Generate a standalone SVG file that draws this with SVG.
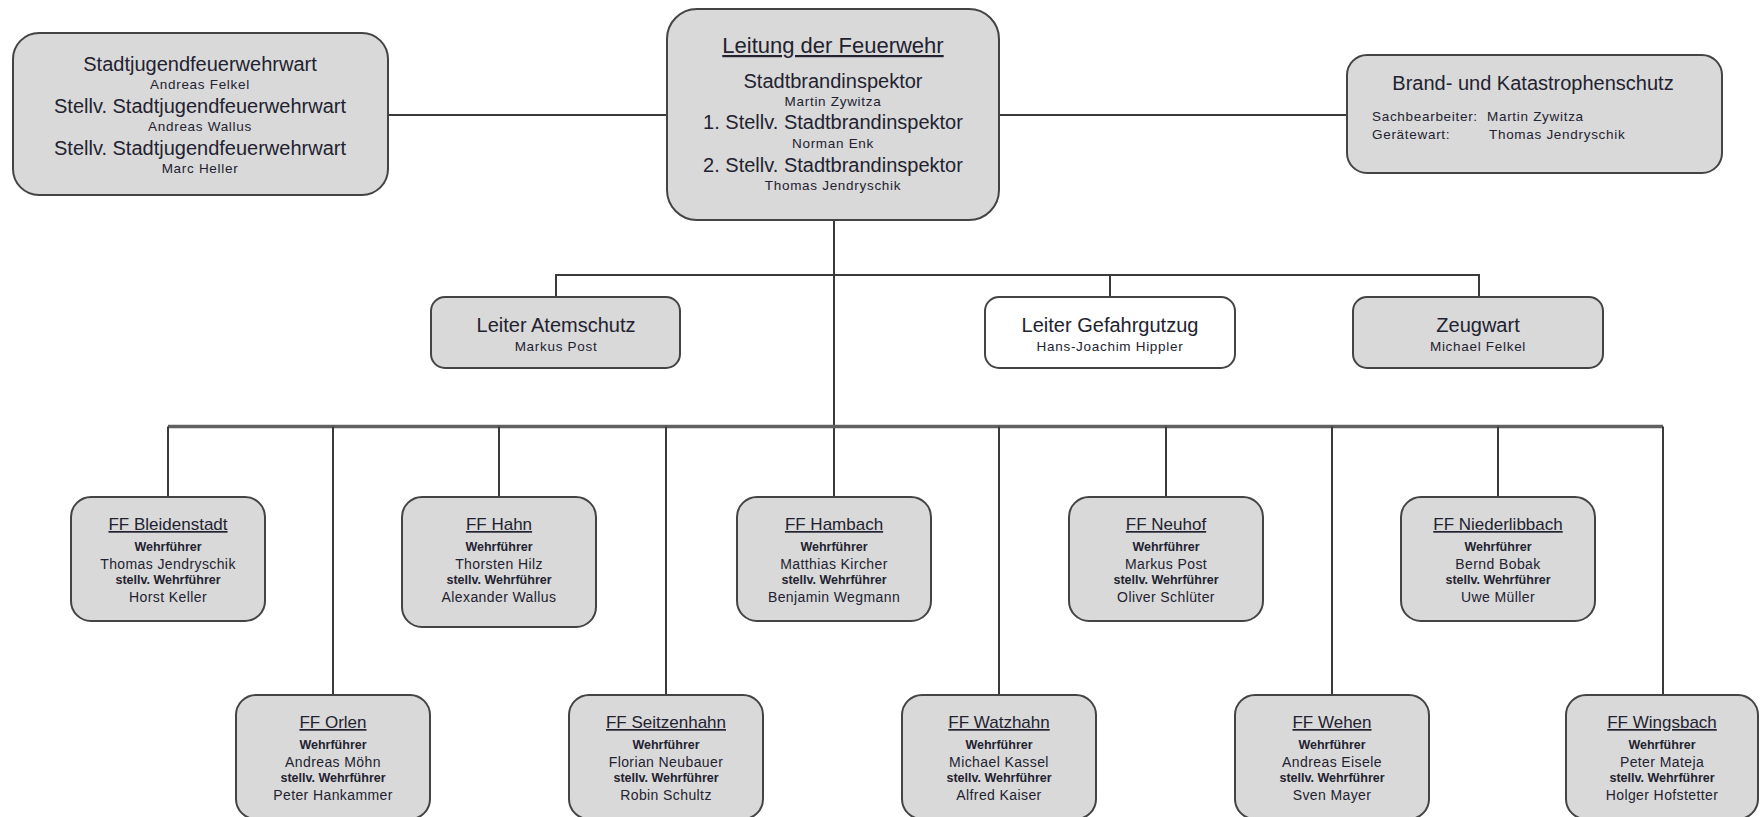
<svg xmlns="http://www.w3.org/2000/svg" width="1760" height="817" viewBox="0 0 1760 817">
<style>
text{font-family:"Liberation Sans",Arial,sans-serif;fill:#222230;text-anchor:middle}
.box{fill:#d9d9d9;stroke:#444;stroke-width:2}
.wbox{fill:#fff;stroke:#444;stroke-width:2}
.big{font-size:20px}
.head{font-size:22px;text-decoration:underline}
.sm{font-size:13.5px;letter-spacing:0.7px}
.ft{font-size:17px;text-decoration:underline}
.role{font-size:12.5px;font-weight:bold}
.nm{font-size:14px;letter-spacing:0.4px}
.l{text-anchor:start}
.c{fill:none;stroke:#3a3a3a;stroke-width:2}
.bus{fill:none;stroke:#606060;stroke-width:3.5}
</style>
<rect width="1760" height="817" fill="#fff"/>
<g id="connectors">
<path class="c" d="M388 115H667M999 115H1347"/>
<path class="c" d="M834 220V497"/>
<path class="c" d="M556 297V275H1479V297M1110 275V297"/>
<path class="bus" d="M168 426.5H1663"/>
<path class="c" d="M168 426.5V497M499 426.5V497M1166 426.5V497M1498 426.5V497"/>
<path class="c" d="M333 426.5V695M666 426.5V695M999 426.5V695M1332 426.5V695M1663 426.5V695"/>
</g>
<g id="jugend">
<rect class="box" x="13" y="33" width="375" height="162" rx="26"/>
<text class="big" x="200" y="71">Stadtjugendfeuerwehrwart</text>
<text class="sm" x="200" y="89">Andreas Felkel</text>
<text class="big" x="200" y="113">Stellv. Stadtjugendfeuerwehrwart</text>
<text class="sm" x="200" y="131">Andreas Wallus</text>
<text class="big" x="200" y="155">Stellv. Stadtjugendfeuerwehrwart</text>
<text class="sm" x="200" y="173">Marc Heller</text>
</g>
<g id="leitung">
<rect class="box" x="667" y="9" width="332" height="211" rx="30"/>
<text class="head" x="833" y="53">Leitung der Feuerwehr</text>
<text class="big" x="833" y="88">Stadtbrandinspektor</text>
<text class="sm" x="833" y="106">Martin Zywitza</text>
<text class="big" x="833" y="129">1. Stellv. Stadtbrandinspektor</text>
<text class="sm" x="833" y="148">Norman Enk</text>
<text class="big" x="833" y="172">2. Stellv. Stadtbrandinspektor</text>
<text class="sm" x="833" y="190">Thomas Jendryschik</text>
</g>
<g id="katastrophenschutz">
<rect class="box" x="1347" y="55" width="375" height="118" rx="20"/>
<text class="big" x="1533" y="90">Brand- und Katastrophenschutz</text>
<text class="sm l" x="1372" y="121">Sachbearbeiter:</text>
<text class="sm l" x="1487" y="121">Martin Zywitza</text>
<text class="sm l" x="1372" y="139">Gerätewart:</text>
<text class="sm l" x="1489" y="139">Thomas Jendryschik</text>
</g>
<g id="atemschutz">
<rect class="box" x="431" y="297" width="249" height="71" rx="14"/>
<text class="big" x="556" y="332">Leiter Atemschutz</text>
<text class="sm" x="556" y="351">Markus Post</text>
</g>
<g id="gefahrgutzug">
<rect class="wbox" x="985" y="297" width="250" height="71" rx="14"/>
<text class="big" x="1110" y="332">Leiter Gefahrgutzug</text>
<text class="sm" x="1110" y="351">Hans-Joachim Hippler</text>
</g>
<g id="zeugwart">
<rect class="box" x="1353" y="297" width="250" height="71" rx="14"/>
<text class="big" x="1478" y="332">Zeugwart</text>
<text class="sm" x="1478" y="351">Michael Felkel</text>
</g>
<g id="bleidenstadt">
<rect class="box" x="71" y="497" width="194" height="124" rx="20"/>
<text class="ft" x="168" y="530">FF Bleidenstadt</text>
<text class="role" x="168" y="551">Wehrführer</text>
<text class="nm" x="168" y="569">Thomas Jendryschik</text>
<text class="role" x="168" y="584">stellv. Wehrführer</text>
<text class="nm" x="168" y="602">Horst Keller</text>
</g>
<g id="hahn">
<rect class="box" x="402" y="497" width="194" height="130" rx="20"/>
<text class="ft" x="499" y="530">FF Hahn</text>
<text class="role" x="499" y="551">Wehrführer</text>
<text class="nm" x="499" y="569">Thorsten Hilz</text>
<text class="role" x="499" y="584">stellv. Wehrführer</text>
<text class="nm" x="499" y="602">Alexander Wallus</text>
</g>
<g id="hambach">
<rect class="box" x="737" y="497" width="194" height="124" rx="20"/>
<text class="ft" x="834" y="530">FF Hambach</text>
<text class="role" x="834" y="551">Wehrführer</text>
<text class="nm" x="834" y="569">Matthias Kircher</text>
<text class="role" x="834" y="584">stellv. Wehrführer</text>
<text class="nm" x="834" y="602">Benjamin Wegmann</text>
</g>
<g id="neuhof">
<rect class="box" x="1069" y="497" width="194" height="124" rx="20"/>
<text class="ft" x="1166" y="530">FF Neuhof</text>
<text class="role" x="1166" y="551">Wehrführer</text>
<text class="nm" x="1166" y="569">Markus Post</text>
<text class="role" x="1166" y="584">stellv. Wehrführer</text>
<text class="nm" x="1166" y="602">Oliver Schlüter</text>
</g>
<g id="niederlibbach">
<rect class="box" x="1401" y="497" width="194" height="124" rx="20"/>
<text class="ft" x="1498" y="530">FF Niederlibbach</text>
<text class="role" x="1498" y="551">Wehrführer</text>
<text class="nm" x="1498" y="569">Bernd Bobak</text>
<text class="role" x="1498" y="584">stellv. Wehrführer</text>
<text class="nm" x="1498" y="602">Uwe Müller</text>
</g>
<g id="orlen">
<rect class="box" x="236" y="695" width="194" height="124" rx="20"/>
<text class="ft" x="333" y="728">FF Orlen</text>
<text class="role" x="333" y="749">Wehrführer</text>
<text class="nm" x="333" y="767">Andreas Möhn</text>
<text class="role" x="333" y="782">stellv. Wehrführer</text>
<text class="nm" x="333" y="800">Peter Hankammer</text>
</g>
<g id="seitzenhahn">
<rect class="box" x="569" y="695" width="194" height="124" rx="20"/>
<text class="ft" x="666" y="728">FF Seitzenhahn</text>
<text class="role" x="666" y="749">Wehrführer</text>
<text class="nm" x="666" y="767">Florian Neubauer</text>
<text class="role" x="666" y="782">stellv. Wehrführer</text>
<text class="nm" x="666" y="800">Robin Schultz</text>
</g>
<g id="watzhahn">
<rect class="box" x="902" y="695" width="194" height="124" rx="20"/>
<text class="ft" x="999" y="728">FF Watzhahn</text>
<text class="role" x="999" y="749">Wehrführer</text>
<text class="nm" x="999" y="767">Michael Kassel</text>
<text class="role" x="999" y="782">stellv. Wehrführer</text>
<text class="nm" x="999" y="800">Alfred Kaiser</text>
</g>
<g id="wehen">
<rect class="box" x="1235" y="695" width="194" height="124" rx="20"/>
<text class="ft" x="1332" y="728">FF Wehen</text>
<text class="role" x="1332" y="749">Wehrführer</text>
<text class="nm" x="1332" y="767">Andreas Eisele</text>
<text class="role" x="1332" y="782">stellv. Wehrführer</text>
<text class="nm" x="1332" y="800">Sven Mayer</text>
</g>
<g id="wingsbach">
<rect class="box" x="1566" y="695" width="192" height="124" rx="20"/>
<text class="ft" x="1662" y="728">FF Wingsbach</text>
<text class="role" x="1662" y="749">Wehrführer</text>
<text class="nm" x="1662" y="767">Peter Mateja</text>
<text class="role" x="1662" y="782">stellv. Wehrführer</text>
<text class="nm" x="1662" y="800">Holger Hofstetter</text>
</g>
</svg>
